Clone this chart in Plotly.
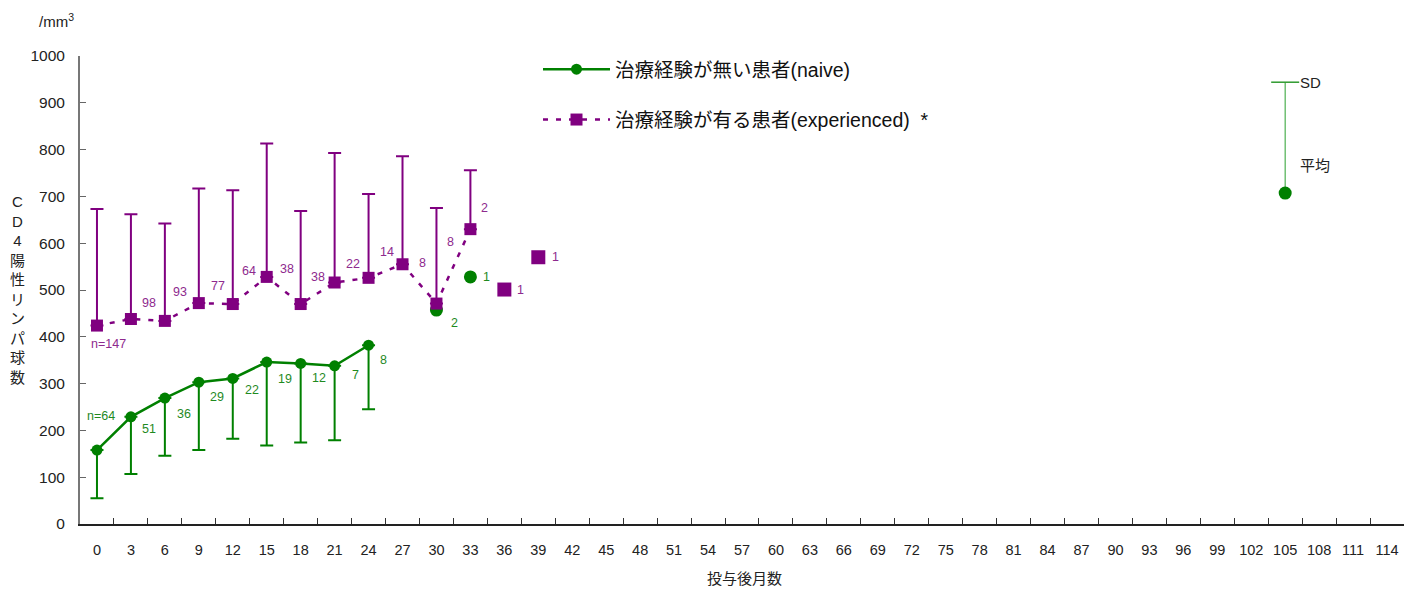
import plotly.graph_objects as go

# ---------------- data ----------------
categories = [str(v) for v in range(0, 115, 3)]

naive_x = ["0", "3", "6", "9", "12", "15", "18", "21", "24"]
naive_mean = [158, 229, 269, 303, 311, 346, 343, 338, 382]
naive_sd = [103, 122, 123, 145, 129, 178, 169, 159, 137]
naive_n = ["n=64", "51", "36", "29", "22", "19", "12", "7", "8"]

naive_extra_x = ["30", "33"]
naive_extra_mean = [457, 528]
naive_extra_n = ["2", "1"]

exp_x = ["0", "3", "6", "9", "12", "15", "18", "21", "24", "27", "30", "33"]
exp_mean = [424, 438, 434, 472, 470, 528, 470, 516, 526, 555, 471, 630]
exp_sd = [249, 224, 208, 245, 243, 285, 199, 277, 179, 231, 204, 126]
exp_n = ["n=147", "98", "93", "77", "64", "38", "38", "22", "14", "8", "8", "2"]

exp_extra_x = ["36", "39"]
exp_extra_mean = [501, 570]
exp_extra_n = ["1", "1"]

key_x = ["105"]
key_mean = [707]
key_sd = [237]

# label offsets (px) : (right, down)
naive_off = [(4, -34), (18, 12), (19, 16), (18, 15), (19, 12), (18, 17), (18, 15), (21, 9), (15, 15)]
naive_extra_off = [(18, 13), (16, 0)]
exp_off = [(12, 18), (18, -16), (15, -29), (19, -17), (16, -33), (20, -8), (17, -27),
           (18, -19), (18, -26), (20, -1), (14, -62), (14, -21)]
exp_extra_off = [(16, 0), (17, 0)]

GREEN = "#008000"
PURPLE = "#800080"
FONT = "Liberation Sans, Arial, Noto Sans CJK JP, sans-serif"


def idx(c):
    return categories.index(c)


fig = go.Figure()

# naive extras (drawn first so purple square covers it at 30)
fig.add_trace(go.Scatter(
    x=naive_extra_x, y=naive_extra_mean, mode="markers",
    marker=dict(symbol="circle", size=13, color=GREEN),
    showlegend=False, hoverinfo="skip"))

fig.add_trace(go.Scatter(
    x=naive_x, y=naive_mean, mode="lines+markers",
    name="治療経験が無い患者(naive)", legendgroup="a",
    line=dict(color=GREEN, width=2.5),
    marker=dict(symbol="circle", size=11, color=GREEN),
    error_y=dict(type="data", symmetric=False, array=[0] * len(naive_sd),
                 arrayminus=naive_sd, color=GREEN, thickness=2, width=6.5)))

fig.add_trace(go.Scatter(
    x=exp_x, y=exp_mean, mode="lines+markers",
    name="治療経験が有る患者(experienced)  *", legendgroup="b",
    line=dict(color=PURPLE, width=2.5, dash="5px,8px"),
    marker=dict(symbol="square", size=12, color=PURPLE),
    error_y=dict(type="data", symmetric=False, array=exp_sd,
                 arrayminus=[0] * len(exp_sd), color=PURPLE, thickness=2, width=6.5)))

fig.add_trace(go.Scatter(
    x=exp_extra_x, y=exp_extra_mean, mode="markers",
    marker=dict(symbol="square", size=14, color=PURPLE),
    showlegend=False, hoverinfo="skip"))

# key (SD / mean)
key_top = [m + s for m, s in zip(key_mean, key_sd)]
fig.add_trace(go.Scatter(
    x=key_x * 2, y=key_mean + key_top, mode="lines",
    line=dict(color="#4caf50", width=1.2),
    showlegend=False, hoverinfo="skip"))
fig.add_trace(go.Scatter(
    x=key_x, y=key_top, mode="markers",
    marker=dict(symbol="line-ew-open", size=20, color="#2e9a2e",
                line=dict(color="#2e9a2e", width=1.5)),
    showlegend=False, hoverinfo="skip"))
fig.add_trace(go.Scatter(
    x=key_x, y=key_mean, mode="markers",
    marker=dict(symbol="circle", size=13, color=GREEN),
    showlegend=False, hoverinfo="skip"))

ann = []


def add_labels(xs, ys, texts, offs, color):
    for x, y, t, (dx, dy) in zip(xs, ys, texts, offs):
        ann.append(dict(x=idx(x), y=y, xref="x", yref="y", text=t, showarrow=False,
                        xshift=dx, yshift=-dy, font=dict(size=12.5, color=color, family=FONT)))


add_labels(naive_x, naive_mean, naive_n, naive_off, "#1f8a1f")
add_labels(naive_extra_x, naive_extra_mean, naive_extra_n, naive_extra_off, "#1f8a1f")
add_labels(exp_x, exp_mean, exp_n, exp_off, "#8e2a8e")
add_labels(exp_extra_x, exp_extra_mean, exp_extra_n, exp_extra_off, "#8e2a8e")

# key labels
ann.append(dict(x=idx(key_x[0]), y=key_top[0], xref="x", yref="y", text="SD",
                showarrow=False, xanchor="left", xshift=13,
                font=dict(size=15, color="#222", family=FONT)))
ann.append(dict(x=idx(key_x[0]), y=key_mean[0], xref="x", yref="y", text="平均",
                showarrow=False, xanchor="left", xshift=13, yshift=28,
                font=dict(size=15, color="#222", family=FONT)))

# axis titles
ann.append(dict(x=(17 - 80) / 1324, y=(524 - 289) / 468, xref="paper", yref="paper",
                xanchor="center", yanchor="middle",
                text="C<br>D<br>4<br>陽<br>性<br>リ<br>ン<br>パ<br>球<br>数",
                showarrow=False, align="center",
                font=dict(size=15, color="#222", family=FONT)))
ann.append(dict(x=(56 - 80) / 1324, y=(524 - 20) / 468, xref="paper", yref="paper",
                xanchor="center", yanchor="middle",
                text="/mm<sup>3</sup>", showarrow=False,
                font=dict(size=15, color="#222", family=FONT)))
ann.append(dict(x=(745 - 80) / 1324, y=(524 - 578) / 468, xref="paper", yref="paper",
                xanchor="center", yanchor="middle",
                text="投与後月数", showarrow=False,
                font=dict(size=15, color="#222", family=FONT)))

fig.update_layout(
    width=1409, height=582,
    margin=dict(l=72, r=13, t=48, b=66),
    paper_bgcolor="white", plot_bgcolor="white",
    font=dict(family=FONT, color="#222"),
    annotations=ann,
    legend=dict(x=(538 - 80) / 1324, y=1.0128, xanchor="left", yanchor="top",
                itemwidth=67, tracegroupgap=22, bgcolor="rgba(0,0,0,0)",
                font=dict(size=19.5, color="#111", family=FONT)),
    xaxis=dict(type="category", categoryorder="array", categoryarray=categories,
               range=[-0.5, len(categories) - 0.5],
               tickmode="array", tickvals=categories, ticktext=categories,
               tickson="boundaries", ticks="inside", ticklen=6, tickcolor="#333",
               showline=True, linecolor="#222", linewidth=2, showgrid=False,
               zeroline=False, ticklabelstandoff=12,
               tickfont=dict(size=14.5, color="#222", family=FONT)),
    yaxis=dict(range=[0, 1000], dtick=100, ticks="inside", ticklen=6, tickcolor="#666",
               showline=True, linecolor="#777", linewidth=2, showgrid=False,
               zeroline=False, ticklabelstandoff=10,
               tickfont=dict(size=15.5, color="#222", family=FONT)),
)

fig.write_html("out.html")
